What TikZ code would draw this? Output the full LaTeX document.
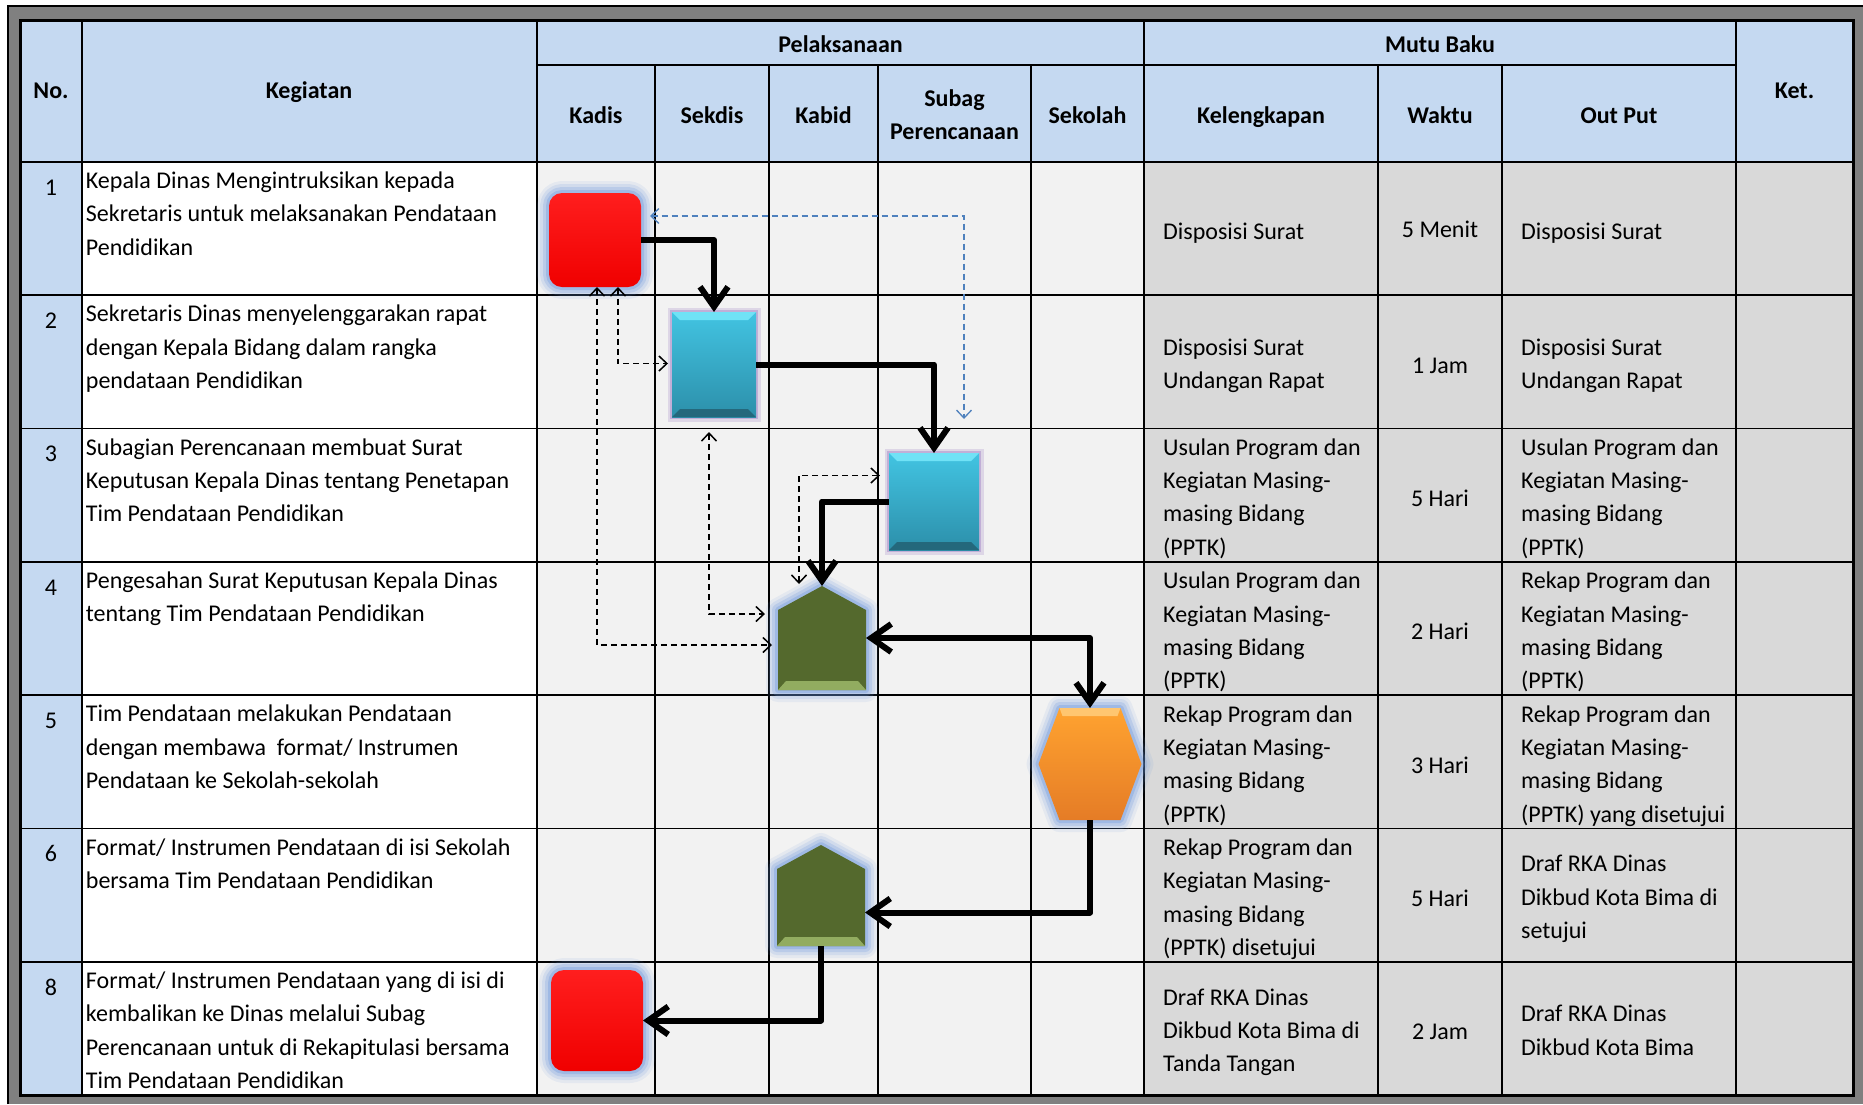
\documentclass[tikz,border=0pt]{standalone}
\usepackage{fontspec}
\setmainfont{Carlito}
\usetikzlibrary{arrows.meta,calc,positioning}

\definecolor{birumuda}{RGB}{197,217,241}
\definecolor{abuterang}{RGB}{242,242,242}
\definecolor{abumutu}{RGB}{217,217,217}
\definecolor{abubingkai}{RGB}{128,128,128}
\definecolor{biruglow}{RGB}{105,150,220}
\definecolor{ungumuda}{RGB}{175,150,205}
\definecolor{birugaris}{RGB}{79,129,189}
\definecolor{merahatas}{RGB}{255,30,30}
\definecolor{merahbawah}{RGB}{240,0,0}
\definecolor{cyanatas}{RGB}{66,196,226}
\definecolor{cyanbawah}{RGB}{44,143,170}
\definecolor{cyanterang}{RGB}{112,226,246}
\definecolor{cyangelap}{RGB}{36,104,124}
\definecolor{hijau}{RGB}{84,105,45}
\definecolor{hijauterang}{RGB}{146,172,96}
\definecolor{oranyeatas}{RGB}{255,163,48}
\definecolor{oranyebawah}{RGB}{229,124,38}
\definecolor{oranyeterang}{RGB}{255,198,112}

\begin{document}
\begin{tikzpicture}
[x=1pt,y=-1pt,
 garis/.style={line width=1.6pt},
 judul/.style={font=\fontsize{24}{33.3}\selectfont\bfseries,inner sep=0pt,align=center},
 isi/.style={font=\fontsize{24}{33.3}\selectfont,inner sep=0pt,align=left,
   execute at begin node=\strut,execute at end node=\strut},
 tempat/.style={shape=rectangle,inner sep=0pt,outer sep=0pt},
 glow/.style={preaction={draw=biruglow,line width=24pt,opacity=.1,line join=round},
   preaction={draw=biruglow,line width=18pt,opacity=.15,line join=round},
   preaction={draw=biruglow,line width=12pt,opacity=.22,line join=round},
   preaction={draw=biruglow,line width=6pt,opacity=.32,line join=round}},
 kadis/.style={tempat,rounded corners=13pt,minimum width=92pt,
   top color=merahatas,bottom color=merahbawah,glow},
 sekdis/.style={tempat,top color=cyanatas,bottom color=cyanbawah,
   preaction={draw=ungumuda,line width=9pt,opacity=.3},
   preaction={draw=ungumuda,line width=4pt,opacity=.6}},
 tebal/.style={line width=6pt,line join=round,>={Straight Barb[length=20pt,width=28pt]},->},
 putus/.style={line width=1.5pt,dash pattern=on 6pt off 4pt,
   >={Straight Barb[length=8pt,width=15pt]},<->},
 putusbiru/.style={putus,draw=birugaris,line width=1.3pt}]
\useasboundingbox (0,0) rectangle (1863,1104);
%% bingkai dan sel tabel
\fill[white] (0,0) rectangle (1863,1104);
\fill[abubingkai] (7,5) rectangle (1863,1104);
\draw[line width=1.5pt] (7.75,1104) -- (7.75,5.75) -- (1863,5.75);
\fill[birumuda] (20,20) rectangle (1853,161.7);
\fill[birumuda] (20,161.7) rectangle (81.7,1095);
\fill[white] (81.7,161.7) rectangle (537,1095);
\fill[abuterang] (537,161.7) rectangle (1144,1095);
\fill[abumutu] (1144,161.7) rectangle (1853,1095);
%% garis tabel
\foreach \y in {161.7,295,428.3,561.7,695,828.3,961.7}
  \draw[garis] (20,\y) -- (1853,\y);
\draw[garis] (537,65) -- (1736,65);
\foreach \x in {81.7,537,1144,1736}
  \draw[garis] (\x,20) -- (\x,1095);
\foreach \x in {655,769,878,1031,1378,1502}
  \draw[garis] (\x,65) -- (\x,1095);
\draw[line width=3pt] (20,20) rectangle (1853,1095);
%% kepala tabel
\node[judul,anchor=base] (hno) at (51,98) {No.};
\node[judul,anchor=base] (hkeg) at (309,98) {Kegiatan};
\node[judul,anchor=base] (hket) at (1794.5,98) {Ket.};
\node[judul,anchor=base] (hpel) at (840.5,52) {Pelaksanaan};
\node[judul,anchor=base] (hmutu) at (1440,52) {Mutu Baku};
\foreach \nama/\x/\teks in {kadis/596/Kadis, sekdis/712/Sekdis, kabid/823.5/Kabid,
  sekolah/1087.5/Sekolah, kel/1261/Kelengkapan, waktu/1440/Waktu, out/1619/Out Put} {
  \node[judul,anchor=base] (h\nama) at (\x,123) {\teks};
}
\node[judul] (hsubag) at (954.5,114.5) {Subag\\Perencanaan};
%% kegiatan
\foreach \no/\y/\teks in {
  1/161.7/{Kepala Dinas Mengintruksikan kepada\\Sekretaris untuk melaksanakan Pendataan\\Pendidikan},
  2/295/{Sekretaris Dinas menyelenggarakan rapat\\dengan Kepala Bidang dalam rangka\\pendataan Pendidikan},
  3/428.3/{Subagian Perencanaan membuat Surat\\Keputusan Kepala Dinas tentang Penetapan\\Tim Pendataan Pendidikan},
  4/561.7/{Pengesahan Surat Keputusan Kepala Dinas\\tentang Tim Pendataan Pendidikan},
  5/695/{Tim Pendataan melakukan Pendataan\\dengan membawa\ \ format/ Instrumen\\Pendataan ke Sekolah-sekolah},
  6/828.3/{Format/ Instrumen Pendataan di isi Sekolah\\bersama Tim Pendataan Pendidikan},
  8/961.7/{Format/ Instrumen Pendataan yang di isi di\\kembalikan ke Dinas melalui Subag\\Perencanaan untuk di Rekapitulasi bersama\\Tim Pendataan Pendidikan}} {
  \node[isi,anchor=north] (no\no) at (51,\y+10) {\no};
  \node[isi,anchor=north west] (keg\no) at (85.7,\y+10) {\teks};
}
%% mutu baku
\foreach \i/\y/\kel/\wkt/\out in {
  1/226.3/{Disposisi Surat}/{5 Menit}/{Disposisi Surat},
  2/361.7/{Disposisi Surat\\Undangan Rapat}/{1 Jam}/{Disposisi Surat\\Undangan Rapat},
  3/495/{Usulan Program dan\\Kegiatan Masing-\\masing Bidang\\(PPTK)}/{5 Hari}/{Usulan Program dan\\Kegiatan Masing-\\masing Bidang\\(PPTK)},
  4/628.3/{Usulan Program dan\\Kegiatan Masing-\\masing Bidang\\(PPTK)}/{2 Hari}/{Rekap Program dan\\Kegiatan Masing-\\masing Bidang\\(PPTK)},
  5/761.7/{Rekap Program dan\\Kegiatan Masing-\\masing Bidang\\(PPTK)}/{3 Hari}/{Rekap Program dan\\Kegiatan Masing-\\masing Bidang\\(PPTK) yang disetujui},
  6/895/{Rekap Program dan\\Kegiatan Masing-\\masing Bidang\\(PPTK) disetujui}/{5 Hari}/{Draf RKA Dinas\\Dikbud Kota Bima di\\setujui},
  8/1028.3/{Draf RKA Dinas\\Dikbud Kota Bima di\\Tanda Tangan}/{2 Jam}/{Draf RKA Dinas\\Dikbud Kota Bima}} {
  \node[isi,anchor=west] (kel\i) at (1163,\y+7) {\kel};
  \node[isi,align=center] (wkt\i) at (1440,\y+5) {\wkt};
  \node[isi,anchor=west] (out\i) at (1521,\y+7) {\out};
}
%% bentuk alur
\node[kadis,minimum height=94pt] (k1) at (595,240) {};
\node[sekdis,minimum width=84pt,minimum height=105pt] (s2) at (714,364.5) {};
\node[sekdis,minimum width=90pt,minimum height=97pt] (p3) at (934,501.5) {};
\node[tempat,minimum width=88pt,minimum height=104pt] (k4) at (822,638) {};
\node[tempat,minimum width=103pt,minimum height=112pt] (sk5) at (1090,764) {};
\node[tempat,minimum width=88pt,minimum height=101pt] (k6) at (821,895.5) {};
\node[kadis,minimum height=101pt] (k8) at (597,1020.5) {};
\foreach \n in {s2,p3} {
  \fill[cyanterang] (\n.north west) -- (\n.north east) -- ($(\n.north east)+(-8,8)$)
    -- ($(\n.north west)+(8,8)$) -- cycle;
  \fill[cyangelap] (\n.south west) -- (\n.south east) -- ($(\n.south east)+(-8,-8)$)
    -- ($(\n.south west)+(8,-8)$) -- cycle;
}
\foreach \n in {k4,k6} {
  \path[glow,fill=hijau] (\n.south west) -- ($(\n.north west)+(0,24)$) -- (\n.north)
    -- ($(\n.north east)+(0,24)$) -- (\n.south east) -- cycle;
  \fill[hijauterang] (\n.south west) -- (\n.south east) -- ($(\n.south east)+(-8,-9)$)
    -- ($(\n.south west)+(8,-9)$) -- cycle;
}
\path[glow,top color=oranyeatas,bottom color=oranyebawah] (sk5.west)
  -- ($(sk5.north west)+(21,0)$) -- ($(sk5.north east)+(-21,0)$) -- (sk5.east)
  -- ($(sk5.south east)+(-21,0)$) -- ($(sk5.south west)+(21,0)$) -- cycle;
\fill[oranyeterang] ($(sk5.north west)+(21,0)$) -- ($(sk5.north east)+(-21,0)$)
  -- ($(sk5.north east)+(-24,8)$) -- ($(sk5.north west)+(24,8)$) -- cycle;
%% panah tebal
\draw[tebal] (k1.east) -| (s2.north);
\draw[tebal] (s2.east) -| (p3.north);
\draw[tebal] (p3.west) -| (k4.north);
\draw[tebal,<->] (k4.east) -| (sk5.north);
\draw[tebal] (sk5.south) |- ($(k6.east)+(0,17)$);
\draw[tebal] (k6.south) |- (k8.east);
%% panah putus-putus
\coordinate (ujung1) at (964,419);
\draw[putusbiru] ($(k1.east)+(9,-24)$) -| (ujung1);
\draw[putus] ($(k1.south)+(2,0)$) |- ($(k4.west)+(-6,7)$);
\draw[putus] ($(k1.south)+(23,0)$) |- ($(s2.west)+(-4,-1)$);
\draw[putus] ($(s2.south)+(-5,15)$) |- ($(k4.west)+(-13,-24)$);
\draw[putus] ($(p3.west)+(-9,-26)$) -| ($(k4.north)+(-23,-2)$);
\end{tikzpicture}
\end{document}
